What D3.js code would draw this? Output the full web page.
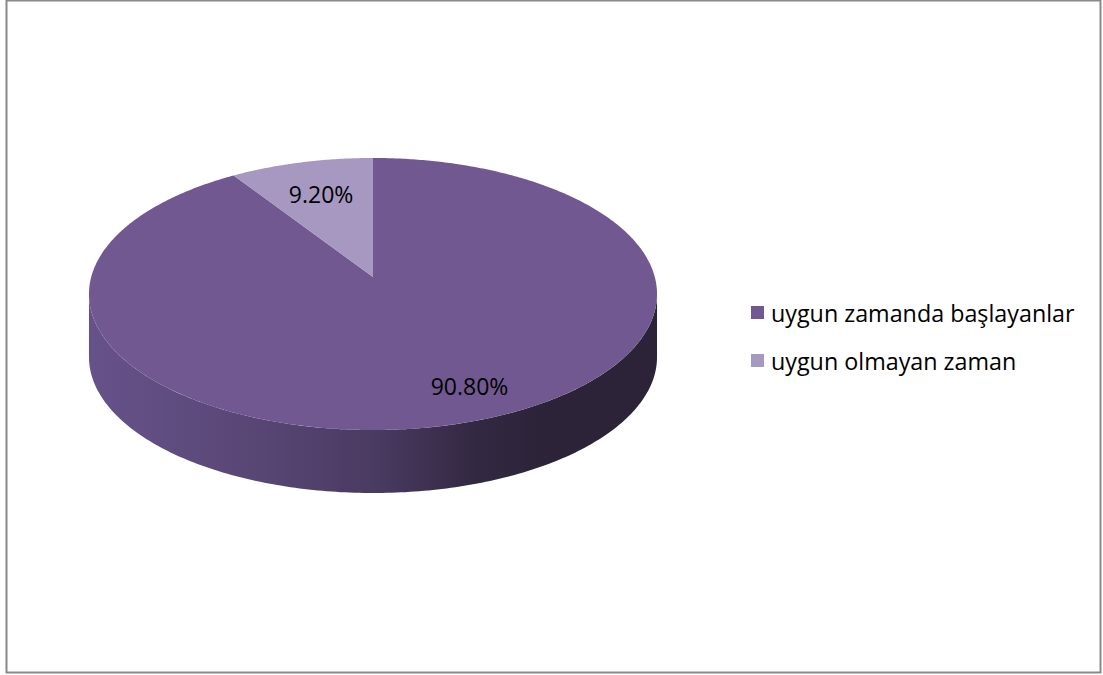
<!DOCTYPE html>
<html><head><meta charset="utf-8">
<script src="https://cdn.jsdelivr.net/npm/d3@7"></script>
<style>body{margin:0;background:#fff}svg{display:block}</style>
</head><body>
<svg id="c" width="1103" height="675"></svg>
<script>
const categories = ["uygun zamanda başlayanlar", "uygun olmayan zaman"];
const values = [90.8, 9.2];
const valueLabels = ["90.80%", "9.20%"];
const colors = ["#725891", "#a698c0"];

const W = 1103, H = 675;
const svg = d3.select("#c");
svg.append("rect").attr("x", 6.5).attr("y", 0.5).attr("width", 1094).attr("height", 672)
  .attr("fill", "#fff").attr("stroke", "#898989").attr("stroke-width", 2);

// perspective pie geometry
const cx = 373, cy = 277, A = 281.8, B = 133.9, p = 0.125, depth = 63;
function proj(theta, r, dy) {
  const u = r * Math.sin(theta), v = r * Math.cos(theta);
  const s = 1 / (1 + p * v);
  return [cx + A * u * s, cy - B * v * s + (dy || 0)];
}
const pie = d3.pie().sort(null).value(d => d)(values);

const defs = svg.append("defs");
const grad = defs.append("linearGradient").attr("id", "side").attr("gradientUnits", "userSpaceOnUse")
  .attr("x1", 89).attr("x2", 657).attr("y1", 0).attr("y2", 0);
[[0, "#66528a"], [0.25, "#5b4878"], [0.5, "#4a3b62"], [0.68, "#332842"], [0.8, "#2c2338"], [1, "#2c2338"]]
  .forEach(([o, c]) => grad.append("stop").attr("offset", o).attr("stop-color", c));

// find silhouette tangent angles
let thR = 0, thL = 0, maxX = -1e9, minX = 1e9;
for (let i = 0; i <= 3600; i++) {
  const t = i / 3600 * 2 * Math.PI;
  const [x] = proj(t, 1);
  if (x > maxX) { maxX = x; thR = t; }
  if (x < minX) { minX = x; thL = t; }
}
const line = d3.line();
const sidePts = [];
const N = 200;
for (let i = 0; i <= N; i++) sidePts.push(proj(thR + (thL - thR) * i / N, 1));
for (let i = N; i >= 0; i--) sidePts.push(proj(thR + (thL - thR) * i / N, 1, depth));
svg.append("path").attr("d", line(sidePts) + "Z").attr("fill", "url(#side)");

// top faces
pie.forEach((d, i) => {
  const pts = [proj(0, 0)];
  const n = Math.max(4, Math.ceil((d.endAngle - d.startAngle) / 0.01));
  for (let k = 0; k <= n; k++) pts.push(proj(d.startAngle + (d.endAngle - d.startAngle) * k / n, 1));
  svg.append("path").attr("d", line(pts) + "Z").attr("fill", colors[i]);
});

// data labels
const labelLayout = [{ r: 0.8, da: -0.11 }, { r: 0.7, da: 0 }];
pie.forEach((d, i) => {
  const mid = (d.startAngle + d.endAngle) / 2 + labelLayout[i].da;
  const [x, y] = proj(mid, labelLayout[i].r);
  svg.append("text").attr("x", x).attr("y", y).attr("text-anchor", "middle")
    .attr("dominant-baseline", "central").attr("font-family", "Open Sans, sans-serif")
    .attr("font-size", 23).attr("fill", "#000").text(valueLabels[i]);
});

// legend
const lg = svg.append("g").attr("transform", "translate(751,306)");
categories.forEach((c, i) => {
  const g = lg.append("g").attr("transform", `translate(0,${i * 48})`);
  g.append("rect").attr("width", 13).attr("height", 13).attr("fill", colors[i]);
  g.append("text").attr("x", 20).attr("y", 6.5).attr("dominant-baseline", "central")
    .attr("font-family", "Open Sans, sans-serif").attr("font-size", 23.3).attr("fill", "#000").text(c);
});
</script>
</body></html>
